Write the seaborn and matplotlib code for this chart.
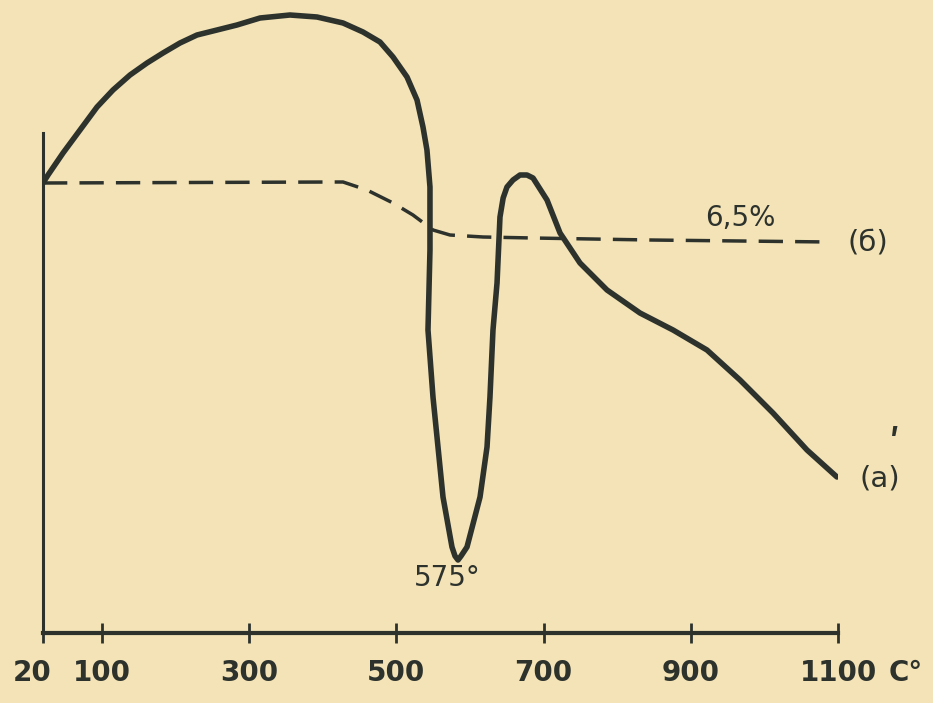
import matplotlib
matplotlib.use("Agg")
import matplotlib.pyplot as plt
import pandas as pd
import seaborn as sns

# curve (a) - DTA trace, temperature in C, signal in arbitrary units
temp_a = [20, 26.8, 47.2, 70.3, 93.4, 115.1, 138.2, 161.3, 183.0, 206.1, 229.2,
          256.4, 283.5, 314.8, 355.5, 392.2, 427.6, 454.7, 477.8, 495.5, 514.5,
          528.1, 536.2, 541.6, 545.7, 545.7, 543, 549.8, 556.6, 563.4, 575.6,
          579.7, 583.8, 587.9, 596, 613.7, 623.2, 627.2, 631.3, 636.8, 640.8,
          645.1, 650.3, 658.5, 668, 677.5, 685.7, 704.7, 722.4, 749.5, 786.2,
          831, 875.9, 922, 966.9, 1011.7, 1057.9, 1098.6]
sig_a = [450, 458, 480, 503, 526, 543, 558, 570, 580, 590, 598,
         603, 608, 615, 618, 616, 610, 601, 591, 576, 556,
         533, 506, 483, 446, 383, 303, 236, 186, 136, 86,
         77, 73, 77, 86, 136, 186, 236, 303, 350, 416,
         435, 446, 453, 458, 458, 455, 433, 400, 370, 343,
         320, 303, 283, 253, 220, 183, 156]

# curve (b) - weight loss trace (dashed)
temp_b = [20, 414, 427.6, 460, 495.5, 522.6, 549.8, 572.9, 617.8, 685.7, 844.6, 1089]
sig_b = [450, 451, 451, 443, 430, 418, 403, 398, 396, 395, 393, 391]

tick_vals = [20, 100, 300, 500, 700, 900, 1100]
tick_labels = ["", "100", "300", "500", "700", "900", "1100"]

paper = "#f3e3b6"
ink = "#2d322d"

sns.set_style("ticks")
plt.rcParams["font.family"] = ["DejaVu Sans"]

fig = plt.figure(figsize=(9.33, 7.03), dpi=100, facecolor=paper)
ax = fig.add_axes([43 / 933, 70 / 703, 795 / 933, 633 / 703])
ax.set_facecolor(paper)

df_a = pd.DataFrame({"t": temp_a, "s": sig_a})
df_b = pd.DataFrame({"t": temp_b, "s": sig_b})
sns.lineplot(data=df_a, x="t", y="s", sort=False, estimator=None, ax=ax,
             color=ink, linewidth=4, solid_joinstyle="round", solid_capstyle="round")
sns.lineplot(data=df_b, x="t", y="s", sort=False, estimator=None, ax=ax,
             color=ink, linewidth=2.5)
ax.lines[-1].set_dashes((7, 3.5))

ax.set_xlim(20, 1100)
ax.set_ylim(0, 633)
ax.set_xlabel("")
ax.set_ylabel("")
ax.set_yticks([])
ax.set_xticks(tick_vals)
ax.set_xticklabels(tick_labels, fontsize=20, fontweight="bold", color=ink)
ax.tick_params(axis="x", direction="inout", length=14, width=2, color=ink, pad=12)

# end labels of the temperature axis
xt = ax.get_xaxis_transform()
ax.text(5, -0.063, "20", transform=xt, fontsize=20, fontweight="bold",
        color=ink, ha="center", va="center")
ax.text(1192, -0.063, "C°", transform=xt, fontsize=20, fontweight="bold",
        color=ink, ha="center", va="center", clip_on=False)

sns.despine(ax=ax, top=True, right=True)
ax.spines["left"].set_bounds(0, 500)
ax.spines["left"].set_linewidth(2.2)
ax.spines["left"].set_color(ink)
ax.spines["bottom"].set_linewidth(3)
ax.spines["bottom"].set_color(ink)

ax.text(569, 55, "575°", fontsize=20, color=ink, ha="center", va="center")
ax.text(967, 415, "6,5%", fontsize=20, color=ink, ha="center", va="center")
ax.text(1141, 391, "(б)", fontsize=21, color=ink, ha="center", va="center")
ax.text(1157, 155, "(а)", fontsize=21, color=ink, ha="center", va="center")
ax.text(1177, 186, "ʹ", fontsize=28, color=ink, ha="center", va="center",
        fontweight="bold")

fig.savefig("out.png", dpi=100, facecolor=paper)
